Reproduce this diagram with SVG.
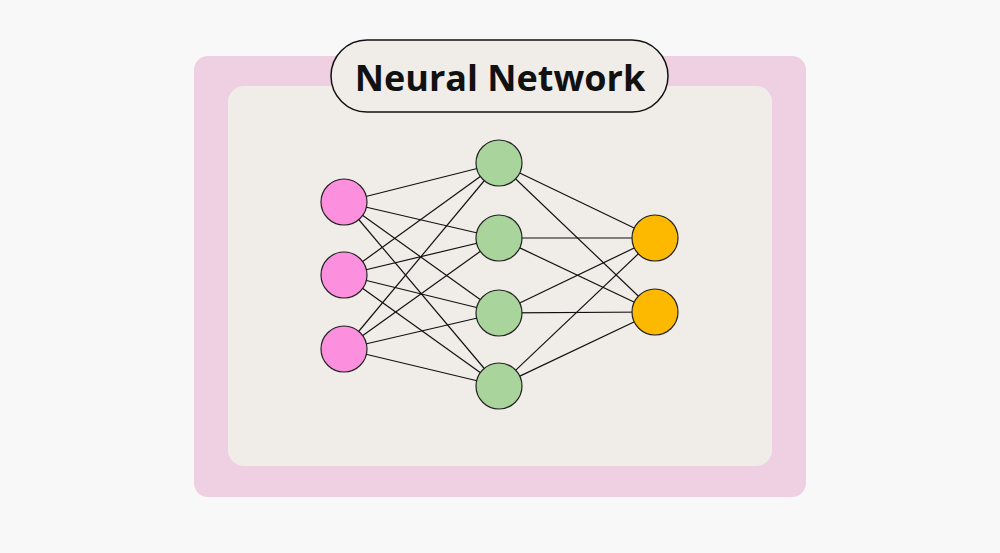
<svg xmlns="http://www.w3.org/2000/svg" width="1000" height="553" viewBox="0 0 1000 553">
<style>
.e{stroke:#111;stroke-width:1.2}
.n{stroke:#222;stroke-width:1.2}
.in{fill:#fd8fdf}.hid{fill:#a9d49b}.out{fill:#fdb900}
</style>
<rect width="1000" height="553" fill="#f8f8f8"/>
<rect x="194" y="56" width="612" height="441" rx="14" fill="#efd0e3"/>
<rect x="228" y="86" width="544" height="380" rx="16" fill="#f0ece8"/>
<g id="title">
<rect x="331" y="40" width="337" height="72" rx="36" fill="#f0ece8" stroke="#111" stroke-width="1.5"/>
<text x="500" y="91" text-anchor="middle" font-family="'Open Sans',sans-serif" font-weight="bold" font-size="36" fill="#111">Neural Network</text>
</g>
<g id="connectors">
<line class="e" x1="344" y1="202" x2="499" y2="163"/><line class="e" x1="344" y1="202" x2="499" y2="238"/><line class="e" x1="344" y1="202" x2="499" y2="313"/><line class="e" x1="344" y1="202" x2="499" y2="386"/>
<line class="e" x1="344" y1="275" x2="499" y2="163"/><line class="e" x1="344" y1="275" x2="499" y2="238"/><line class="e" x1="344" y1="275" x2="499" y2="313"/><line class="e" x1="344" y1="275" x2="499" y2="386"/>
<line class="e" x1="344" y1="349" x2="499" y2="163"/><line class="e" x1="344" y1="349" x2="499" y2="238"/><line class="e" x1="344" y1="349" x2="499" y2="313"/><line class="e" x1="344" y1="349" x2="499" y2="386"/>
<line class="e" x1="499" y1="163" x2="655" y2="238"/><line class="e" x1="499" y1="163" x2="655" y2="312"/>
<line class="e" x1="499" y1="238" x2="655" y2="238"/><line class="e" x1="499" y1="238" x2="655" y2="312"/>
<line class="e" x1="499" y1="313" x2="655" y2="238"/><line class="e" x1="499" y1="313" x2="655" y2="312"/>
<line class="e" x1="499" y1="386" x2="655" y2="238"/><line class="e" x1="499" y1="386" x2="655" y2="312"/>
</g>
<g id="i1"><circle class="n in" cx="344" cy="202" r="23"/></g>
<g id="i2"><circle class="n in" cx="344" cy="275" r="23"/></g>
<g id="i3"><circle class="n in" cx="344" cy="349" r="23"/></g>
<g id="h1"><circle class="n hid" cx="499" cy="163" r="23"/></g>
<g id="h2"><circle class="n hid" cx="499" cy="238" r="23"/></g>
<g id="h3"><circle class="n hid" cx="499" cy="313" r="23"/></g>
<g id="h4"><circle class="n hid" cx="499" cy="386" r="23"/></g>
<g id="o1"><circle class="n out" cx="655" cy="238" r="23"/></g>
<g id="o2"><circle class="n out" cx="655" cy="312" r="23"/></g>
</svg>
